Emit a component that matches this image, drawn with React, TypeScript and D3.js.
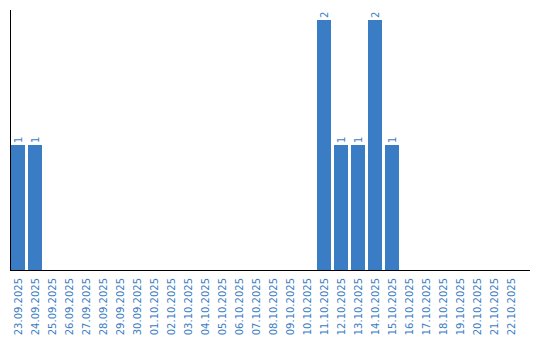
import React from "react";
import * as d3 from "d3";

const dates = [
  "23.09.2025","24.09.2025","25.09.2025","26.09.2025","27.09.2025","28.09.2025","29.09.2025","30.09.2025",
  "01.10.2025","02.10.2025","03.10.2025","04.10.2025","05.10.2025","06.10.2025","07.10.2025","08.10.2025",
  "09.10.2025","10.10.2025","11.10.2025","12.10.2025","13.10.2025","14.10.2025","15.10.2025","16.10.2025",
  "17.10.2025","18.10.2025","19.10.2025","20.10.2025","21.10.2025","22.10.2025",
];
const counts = [1,1,0,0,0,0,0,0,0,0,0,0,0,0,0,0,0,0,2,1,1,2,1,0,0,0,0,0,0,0];

const W = 540, H = 340;
const left = 10, right = 520, top = 10, base = 270;
const blue = "#3b7dc4";
const font = "'DejaVu Sans', Verdana, sans-serif";

export default function App() {
  const x = d3.scaleBand<string>().domain(dates).range([left, right]).padding(0);
  const y = d3.scaleLinear().domain([0, 2.08]).range([base, top]);
  const bw = 14;
  return (
    <svg width={W} height={H} style={{ position: "absolute", left: 0, top: 0, background: "#fff" }}>
      {dates.map((d, i) =>
        counts[i] > 0 ? (
          <g key={d}>
            <rect x={(x(d) as number) + 1} y={y(counts[i])} width={bw} height={base - y(counts[i])} fill={blue} />
            <text
              transform={`translate(${(x(d) as number) + 1 + bw / 2 + 3.5},${y(counts[i]) - 2}) rotate(-90)`}
              fontFamily={font} fontSize={10} fill={blue} textAnchor="start">
              {counts[i]}
            </text>
          </g>
        ) : null
      )}
      <line x1={left + 0.5} x2={left + 0.5} y1={top} y2={base} stroke="#000" />
      <line x1={left} x2={530} y1={base + 0.5} y2={base + 0.5} stroke="#000" />
      {dates.map((d) => (
        <text key={"l" + d}
          transform={`translate(${(x(d) as number) + 1 + bw / 2 + 3.5},${base + 8}) rotate(-90)`}
          fontFamily={font} fontSize={10} fill={blue} textAnchor="end">
          {d}
        </text>
      ))}
    </svg>
  );
}
